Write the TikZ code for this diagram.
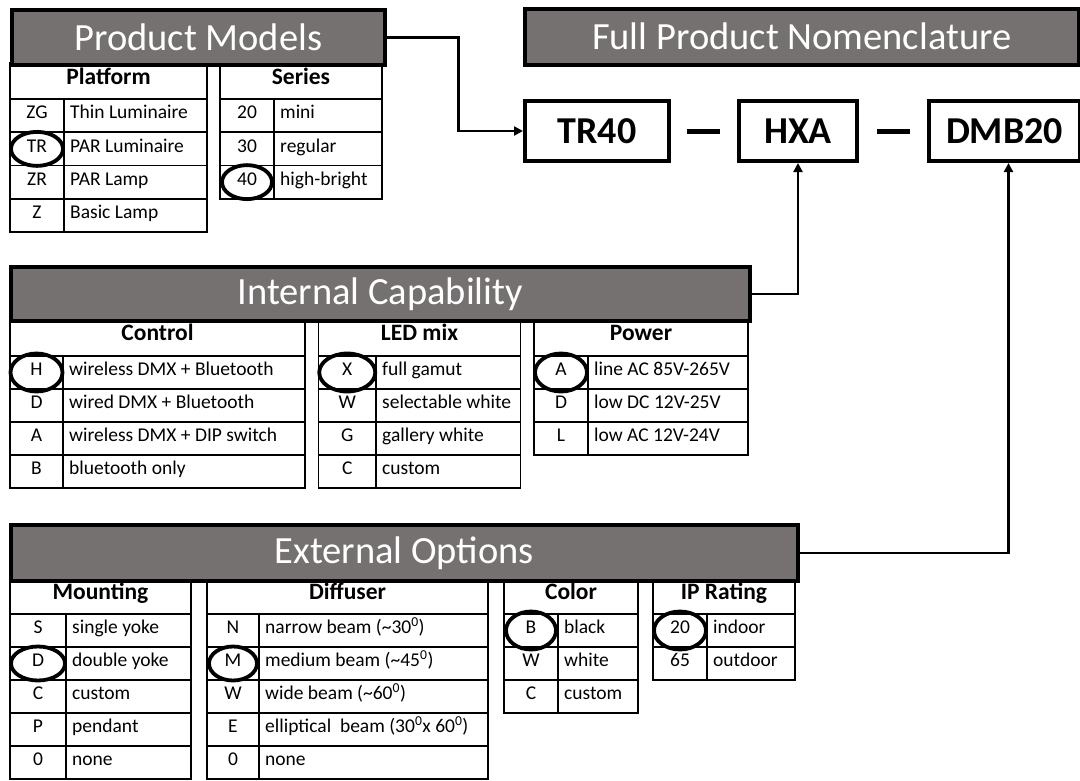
\documentclass[tikz,border=0pt]{standalone}
\usepackage{fontspec}
\setmainfont{Carlito}
\usetikzlibrary{calc,arrows.meta}
\definecolor{bannergray}{HTML}{767171}
\tikzset{
 banner/.style={draw=black, line width=3.5pt, fill=bannergray, text=white, font=\fontsize{38.5}{40}\selectfont, inner sep=0pt, anchor=north west},
 codebox/.style={draw=black, line width=4pt, fill=white, font=\fontsize{38}{40}\selectfont\bfseries, inner sep=0pt, anchor=north west},
 grid/.style={draw=black, line width=1.8pt},
 hdr/.style={font=\fontsize{23.5}{25}\selectfont\bfseries, inner sep=0pt, text height=0.65em, text depth=0pt},
 cell/.style={font=\fontsize{19.5}{21}\selectfont, inner sep=0pt, text height=0.65em, text depth=0pt},
 ring/.style={draw=black, line width=3.8pt},
 conn/.style={draw=black, line width=2.5pt, -{Triangle[length=9pt,width=9pt]}},
 bar/.style={draw=black, line width=5pt},
}
\newcommand\opttab[8]{%
  \draw[grid] (#2,#5) rectangle (#4,#6);
  \node[hdr] (#1-h) at ({(#2+#4)/2},{(#5+#6)/2}) {#7};
  \foreach \c/\d [count=\i] in {#8} {
    \pgfmathsetmacro\ya{#6+(\i-1)*\rowh}
    \pgfmathsetmacro\yb{#6+\i*\rowh}
    \draw[grid] (#2,\ya) rectangle (#3,\yb);
    \draw[grid] (#3,\ya) rectangle (#4,\yb);
    \node[cell] (#1-c\i) at ({(#2+#3)/2},{(\ya+\yb)/2}) {\c};
    \node[cell, anchor=west] (#1-d\i) at ({#3+6},{(\ya+\yb)/2}) {\d};
  }
}
\begin{document}
\begin{tikzpicture}[x=1pt,y=-1pt]
\useasboundingbox[fill=white] (0,0) rectangle (1080,780);

% ---------- Product Models tables
\def\rowh{33.25}
\opttab{pl}{10}{64}{207}{63}{99}{Platform}{ZG/Thin Luminaire, TR/PAR Luminaire, ZR/PAR Lamp, Z/Basic Lamp}
\opttab{se}{220}{274}{382}{63}{99}{Series}{20/mini, 30/regular, 40/high-bright}

% ---------- Internal Capability tables
\def\rowh{33}
\opttab{ct}{10}{63}{305}{319}{356}{Control}{H/wireless DMX + Bluetooth, D/wired DMX + Bluetooth, A/wireless DMX + DIP switch, B/bluetooth only}
\opttab{lm}{318.5}{376}{520.5}{319}{356}{LED mix}{X/full gamut, W/selectable white, G/gallery white, C/custom}
\opttab{pw}{534}{588}{748}{319}{356}{Power}{A/line AC 85V-265V, D/low DC 12V-25V, L/low AC 12V-24V}

% ---------- External Options tables
\def\rowh{33}
\opttab{mt}{10}{66}{191}{579}{614}{Mounting}{S/single yoke, D/double yoke, C/custom, P/pendant, 0/none}
\opttab{df}{207}{259}{488}{579}{614}{Diffuser}{N/narrow beam (\textasciitilde30\textsuperscript{0}), M/medium beam (\textasciitilde45\textsuperscript{0}), W/wide beam (\textasciitilde60\textsuperscript{0}), E/elliptical\ \ beam (30\textsuperscript{0}x 60\textsuperscript{0}), 0/none}
\opttab{co}{504}{558}{638}{579}{614}{Color}{B/black, W/white, C/custom}
\opttab{ip}{653}{707}{795}{579}{614}{IP Rating}{20/indoor, 65/outdoor}

% ---------- banners
\node[banner, minimum width=373pt, minimum height=55pt] (pm) at (10,8) {Product Models};
\node[banner, minimum width=554pt, minimum height=56pt] (fpn) at (523,7) {Full Product Nomenclature};
\node[banner, minimum width=739pt, minimum height=54pt] (ic) at (9,265) {Internal Capability};
\node[banner, minimum width=787pt, minimum height=56pt] (eo) at (9,523) {External Options};

% ---------- code boxes
\node[codebox, minimum width=144pt, minimum height=60pt] (tr) at (523,99) {TR40};
\node[codebox, minimum width=118pt, minimum height=60pt] (hxa) at (737,99) {HXA};
\node[codebox, minimum width=151pt, minimum height=60pt] (dmb) at (927,99) {DMB20};
\draw[bar, shorten <=16pt, shorten >=17pt] (tr.east) -- (hxa.west);
\draw[bar, shorten <=18pt, shorten >=17pt] (hxa.east) -- (dmb.west);

% ---------- connectors
\draw[conn] (pm.east) -- ++(72,0) |- (tr.west);
\draw[conn] (ic.east) -| (hxa.south);
\draw[conn] (eo.east) -| ([xshift=4pt]dmb.south);

% ---------- selection rings
\draw[ring] (pl-c2) ellipse [x radius=26, y radius=17];
\draw[ring] (se-c3) ellipse [x radius=25, y radius=17];
\draw[ring] (ct-c1) ellipse [x radius=26, y radius=19];
\draw[ring] (lm-c1) ellipse [x radius=28, y radius=19];
\draw[ring] (pw-c1) ellipse [x radius=26, y radius=19];
\draw[ring] (mt-c2) ellipse [x radius=27, y radius=17];
\draw[ring] (df-c2) ellipse [x radius=24, y radius=17];
\draw[ring] (co-c1) ellipse [x radius=25, y radius=19];
\draw[ring] (ip-c1) ellipse [x radius=26, y radius=19];
\end{tikzpicture}
\end{document}
